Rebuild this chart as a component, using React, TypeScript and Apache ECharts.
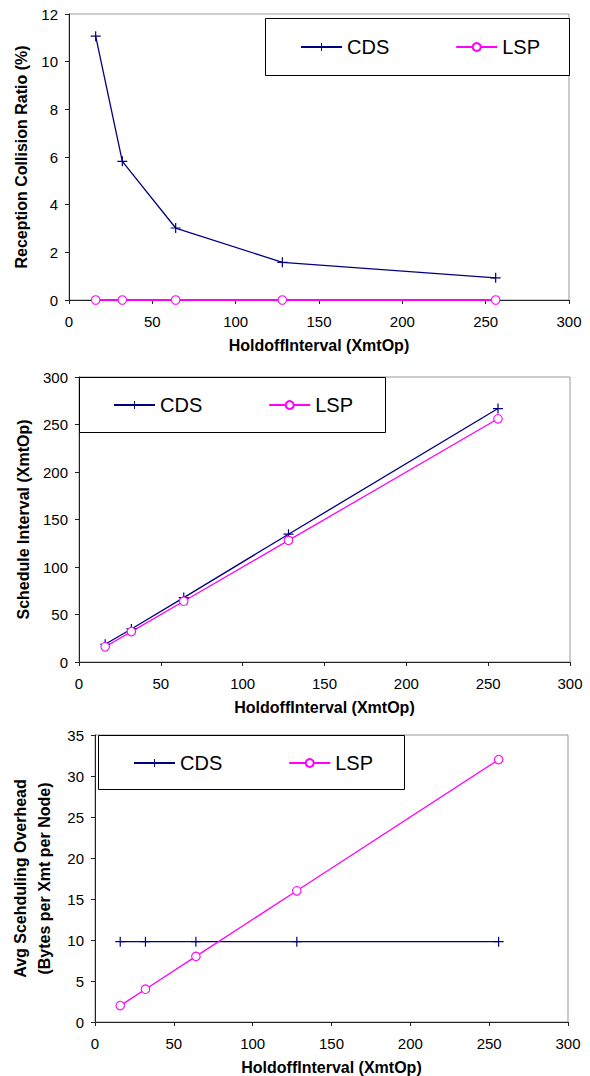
import React, { useEffect, useRef } from "react";
import * as echarts from "echarts";

const holdoff = [16, 32, 64, 128, 256];
const collisionCDS = [11.07, 5.82, 3.02, 1.58, 0.93];
const collisionLSP = [0, 0, 0, 0, 0];
const scheduleCDS = [18.7, 34.8, 67.8, 134.5, 266.8];
const scheduleLSP = [16, 32, 64, 128, 256];
const overheadCDS = [9.8, 9.8, 9.8, 9.8, 9.8];
const overheadLSP = [2, 4, 8, 16, 32];
const seriesNames = ["CDS", "LSP"];
const xTitle = "HoldoffInterval (XmtOp)";
const yTitles = [
  "Reception Collision Ratio (%)",
  "Schedule Interval (XmtOp)",
  "Avg Scehduling Overhead\n(Bytes per Xmt per Node)",
];
const yMax = [12, 300, 35];
const yStep = [2, 50, 5];
const xMax = 300;
const xStep = 50;

const FONT = "'Liberation Sans', Arial, sans-serif";
const NAVY = "#000080";
const MAGENTA = "#ff00ff";
const PLUS = "path://M4.4,0H5.6V4.4H10V5.6H5.6V10H4.4V5.6H0V4.4H4.4Z";

const grids = [
  { left: 69, top: 14, width: 500, height: 286 },
  { left: 79, top: 377, width: 491, height: 285 },
  { left: 95, top: 735, width: 473, height: 288 },
];
const legendBoxes = [
  { x: 265, y: 18, w: 304, h: 57, itemLeft: 300, cy: 47 },
  { x: 79, y: 377, w: 306, h: 55, itemLeft: 113, cy: 405 },
  { x: 98, y: 735, w: 306, h: 54, itemLeft: 133, cy: 763 },
];
const yNameGaps = [37, 44, 25];

export default function App() {
  const ref = useRef<HTMLDivElement>(null);
  useEffect(() => {
    document.body.style.margin = "0";
    const chart = echarts.init(ref.current!, undefined, { renderer: "svg" });
    const data = [
      [collisionCDS, collisionLSP],
      [scheduleCDS, scheduleLSP],
      [overheadCDS, overheadLSP],
    ];
    const series: any[] = [];
    data.forEach((pair, gi) => {
      series.push({
        type: "line",
        name: seriesNames[0],
        xAxisIndex: gi,
        yAxisIndex: gi,
        data: holdoff.map((x, i) => [x, pair[0][i]]),
        symbol: PLUS,
        symbolSize: 10,
        lineStyle: { color: NAVY, width: 1.3 },
        itemStyle: { color: NAVY, borderWidth: 0 },
        z: 3,
      });
      series.push({
        type: "line",
        name: seriesNames[1],
        xAxisIndex: gi,
        yAxisIndex: gi,
        data: holdoff.map((x, i) => [x, pair[1][i]]),
        symbol: "circle",
        symbolSize: 8.5,
        lineStyle: { color: MAGENTA, width: gi === 0 ? 2 : 1.3 },
        itemStyle: { color: "#fff", borderColor: MAGENTA, borderWidth: 1.1 },
        z: 3,
      });
    });
    const axisLine = { show: true, onZero: true, lineStyle: { color: "#222", width: 1 } };
    const axisTick = { show: true, inside: false, length: 4, lineStyle: { color: "#222" } };
    chart.setOption({
      animation: false,
      grid: grids.map((g) => ({ ...g, show: true, borderColor: "#999", borderWidth: 1, backgroundColor: "#fff" })),
      xAxis: grids.map((_, gi) => ({
        type: "value",
        gridIndex: gi,
        min: 0,
        max: xMax,
        interval: xStep,
        axisLine,
        axisTick,
        splitLine: { show: false },
        axisLabel: { color: "#000", fontSize: 15, fontFamily: FONT, margin: 14 },
        name: xTitle,
        nameLocation: "middle",
        nameGap: 37,
        nameTextStyle: { color: "#000", fontSize: 16, fontWeight: "bold", fontFamily: FONT },
      })),
      yAxis: grids.map((_, gi) => ({
        type: "value",
        gridIndex: gi,
        min: 0,
        max: yMax[gi],
        interval: yStep[gi],
        axisLine,
        axisTick,
        splitLine: { show: false },
        axisLabel: { color: "#000", fontSize: 15, fontFamily: FONT, margin: 11 },
        name: yTitles[gi],
        nameLocation: "middle",
        nameGap: yNameGaps[gi],
        nameTextStyle: {
          color: "#000",
          fontSize: 16,
          fontWeight: "bold",
          fontFamily: FONT,
          lineHeight: gi === 2 ? 24 : 18,
        },
      })),
      legend: legendBoxes.map((b) => ({
        left: b.itemLeft,
        top: b.cy - 10,
        orient: "horizontal",
        itemWidth: 41,
        itemHeight: 10,
        itemGap: 66,
        padding: 0,
        selectedMode: false,
        z: 6,
        textStyle: { fontSize: 20, color: "#000", fontFamily: FONT, lineHeight: 20 },
        data: seriesNames,
      })),
      graphic: legendBoxes.map((b) => ({
        type: "rect",
        z: 5,
        shape: { x: b.x + 0.5, y: b.y + 0.5, width: b.w, height: b.h },
        style: { fill: "#fff", stroke: "#000", lineWidth: 1 },
      })),
      series,
    });
    return () => chart.dispose();
  }, []);
  return <div ref={ref} style={{ width: 590, height: 1076 }} />;
}
